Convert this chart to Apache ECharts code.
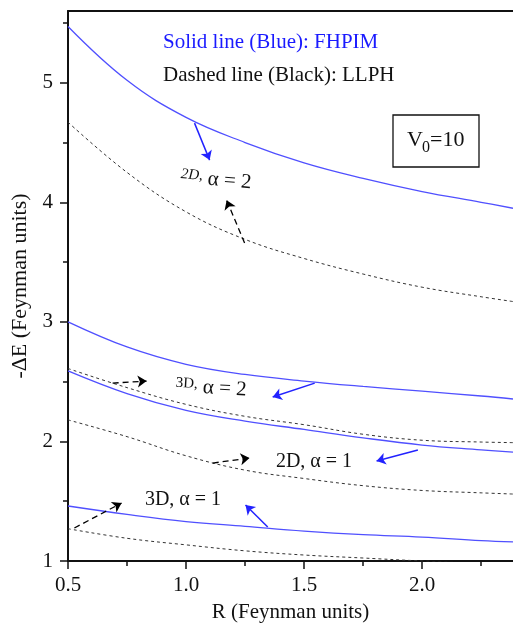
<!DOCTYPE html>
<html>
<head>
<meta charset="utf-8">
<script src="https://cdn.jsdelivr.net/npm/echarts@6/dist/echarts.min.js"></script>
<style>
  html, body { margin: 0; padding: 0; background: #fff; }
  #chart { width: 513px; height: 624px; }
</style>
</head>
<body>
<div id="chart"></div>
<script>
// Polaron binding energy -ΔE vs R for V0 = 10
const R = [0.5, 0.75, 1.0, 1.25, 1.5, 1.75, 2.0, 2.25, 2.385];

// FHPIM (solid, blue)
const fhpim2Da2 = [5.47, 5.02, 4.71, 4.50, 4.33, 4.20, 4.09, 4.00, 3.95];
const fhpim3Da2 = [3.00, 2.79, 2.645, 2.56, 2.505, 2.46, 2.42, 2.38, 2.355];
const fhpim2Da1 = [2.59, 2.40, 2.26, 2.17, 2.10, 2.03, 1.97, 1.93, 1.91];
const fhpim3Da1 = [1.46, 1.39, 1.33, 1.29, 1.25, 1.22, 1.20, 1.17, 1.16];

// LLPH (dashed, black)
const llph2Da2 = [4.67, 4.25, 3.92, 3.69, 3.53, 3.40, 3.29, 3.21, 3.17];
const llph3Da2 = [2.61, 2.45, 2.31, 2.21, 2.14, 2.06, 2.01, 1.995, 1.99];
const llph2Da1 = [2.18, 2.04, 1.88, 1.76, 1.69, 1.63, 1.59, 1.57, 1.56];
const llph3Da1 = [1.27, 1.19, 1.135, 1.085, 1.05, 1.025, 1.0, 0.98, 0.97];

const xMajor = [0.5, 1.0, 1.5, 2.0];
const xMinor = [0.75, 1.25, 1.75, 2.25];
const yMajor = [1, 2, 3, 4, 5];
const yMinor = [1.5, 2.5, 3.5, 4.5, 5.5];

// Pointer arrows [from, to] in data coordinates
const blueArrows = [
  [[1.036, 4.662], [1.100, 4.353]],
  [[1.545, 2.488], [1.367, 2.371]],
  [[1.982, 1.928], [1.807, 1.836]],
  [[1.346, 1.284], [1.252, 1.468]]
];
const blackArrows = [
  [[1.248, 3.659], [1.172, 4.018]],
  [[0.689, 2.488], [0.833, 2.505]],
  [[1.113, 1.819], [1.269, 1.861]],
  [[0.527, 1.276], [0.727, 1.485]]
];

const SERIF = '"Liberation Serif", "DejaVu Serif", serif';
const BLUE = '#5050ff';
const ARROW_BLUE = '#2222ff';
const INK = '#111';

const pairs = ys => R.map((x, i) => [x, ys[i]]);

function solid(name, ys) {
  return {
    name, type: 'line', data: pairs(ys), smooth: 0.4, showSymbol: false,
    lineStyle: { color: BLUE, width: 1.3 }, itemStyle: { color: BLUE }, z: 3
  };
}
function dashed(name, ys) {
  return {
    name, type: 'line', data: pairs(ys), smooth: 0.4, showSymbol: false,
    lineStyle: { color: '#333', width: 1, type: [3, 3] }, itemStyle: { color: '#333' }, z: 2
  };
}
const toMark = list => list.map(([a, b]) => [{ coord: a }, { coord: b }]);

const series = [
  solid('FHPIM 2D a=2', fhpim2Da2),
  solid('FHPIM 3D a=2', fhpim3Da2),
  solid('FHPIM 2D a=1', fhpim2Da1),
  solid('FHPIM 3D a=1', fhpim3Da1),
  dashed('LLPH 2D a=2', llph2Da2),
  dashed('LLPH 3D a=2', llph3Da2),
  dashed('LLPH 2D a=1', llph2Da1),
  dashed('LLPH 3D a=1', llph3Da1)
];
series[0].markLine = {
  silent: true, symbol: ['none', 'arrow'], symbolSize: 9, label: { show: false },
  lineStyle: { color: ARROW_BLUE, width: 1.5, type: 'solid' },
  emphasis: { disabled: true }, data: toMark(blueArrows)
};
series[4].markLine = {
  silent: true, symbol: ['none', 'arrow'], symbolSize: 9, label: { show: false },
  lineStyle: { color: '#000', width: 1.3, type: [6, 4] },
  emphasis: { disabled: true }, data: toMark(blackArrows)
};

const xMin = 0.5, xMax = 2.385, yMin = 1, yMax = 5.6;

const option = {
  animation: false,
  backgroundColor: '#fff',
  grid: { left: 68, right: 0, top: 11, bottom: 63, containLabel: false, outerBoundsMode: 'none' },
  xAxis: [
    {
      type: 'value', min: xMin, max: xMax, position: 'bottom',
      name: 'R (Feynman units)', nameLocation: 'middle', nameGap: 41,
      nameTextStyle: { fontFamily: SERIF, fontSize: 21, color: INK },
      axisLine: { lineStyle: { color: INK, width: 2 } },
      axisTick: { customValues: xMajor, length: 8, lineStyle: { color: INK, width: 1.5 } },
      axisLabel: {
        customValues: xMajor, formatter: v => v.toFixed(1), margin: 14,
        fontFamily: SERIF, fontSize: 21, color: INK
      },
      splitLine: { show: false }
    },
    {
      type: 'value', min: xMin, max: xMax, position: 'bottom',
      axisLine: { show: false },
      axisTick: { customValues: xMinor, length: 5, lineStyle: { color: INK, width: 1.5 } },
      axisLabel: { show: false },
      splitLine: { show: false }
    },
    {
      type: 'value', min: xMin, max: xMax, position: 'top',
      axisLine: { lineStyle: { color: INK, width: 2 } },
      axisTick: { show: false }, axisLabel: { show: false }, splitLine: { show: false }
    }
  ],
  yAxis: [
    {
      type: 'value', min: yMin, max: yMax, position: 'left',
      name: '-ΔE (Feynman units)', nameLocation: 'middle', nameGap: 37, nameRotate: 90,
      nameTextStyle: { fontFamily: SERIF, fontSize: 22, color: INK },
      axisLine: { lineStyle: { color: INK, width: 2 } },
      axisTick: { customValues: yMajor, length: 8, lineStyle: { color: INK, width: 1.5 } },
      axisLabel: {
        customValues: yMajor, formatter: v => String(v), margin: 15,
        fontFamily: SERIF, fontSize: 21, color: INK
      },
      splitLine: { show: false }
    },
    {
      type: 'value', min: yMin, max: yMax, position: 'left',
      axisLine: { show: false },
      axisTick: { customValues: yMinor, length: 5, lineStyle: { color: INK, width: 1.5 } },
      axisLabel: { show: false },
      splitLine: { show: false }
    }
  ],
  series,
  graphic: [
    { type: 'text', x: 163, y: 42, style: { text: 'Solid line (Blue): FHPIM', fill: '#1a1aff', fontFamily: SERIF, fontSize: 21, textVerticalAlign: 'middle' } },
    { type: 'text', x: 163, y: 75, style: { text: 'Dashed line (Black): LLPH', fill: INK, fontFamily: SERIF, fontSize: 21, textVerticalAlign: 'middle' } },
    { type: 'rect', shape: { x: 393, y: 115, width: 86, height: 52 }, style: { fill: 'none', stroke: INK, lineWidth: 1.3 } },
    { type: 'text', x: 407, y: 140, style: { text: 'V', fill: INK, fontFamily: SERIF, fontSize: 22, textVerticalAlign: 'middle' } },
    { type: 'text', x: 422, y: 148, style: { text: '0', fill: INK, fontFamily: SERIF, fontSize: 16, textVerticalAlign: 'middle' } },
    { type: 'text', x: 430, y: 140, style: { text: '=10', fill: INK, fontFamily: SERIF, fontSize: 22, textVerticalAlign: 'middle' } },
    {
      type: 'text', x: 216, y: 180, rotation: -0.08,
      style: {
        text: '{s|2D,} α = 2', fill: INK, fontFamily: SERIF, fontSize: 21,
        textAlign: 'center', textVerticalAlign: 'middle',
        rich: { s: { fontFamily: SERIF, fontSize: 15, fontStyle: 'italic', fill: INK, padding: [0, 0, 6, 0] } }
      }
    },
    {
      type: 'text', x: 211, y: 388, rotation: -0.06,
      style: {
        text: '{s|3D,} α = 2', fill: INK, fontFamily: SERIF, fontSize: 21,
        textAlign: 'center', textVerticalAlign: 'middle',
        rich: { s: { fontFamily: SERIF, fontSize: 15, fill: INK, padding: [0, 0, 6, 0] } }
      }
    },
    { type: 'text', x: 314, y: 462, style: { text: '2D, α = 1', fill: INK, fontFamily: SERIF, fontSize: 20, textAlign: 'center', textVerticalAlign: 'middle' } },
    { type: 'text', x: 183, y: 500, style: { text: '3D, α = 1', fill: INK, fontFamily: SERIF, fontSize: 20, textAlign: 'center', textVerticalAlign: 'middle' } }
  ]
};

const chart = echarts.init(document.getElementById('chart'), null, { renderer: 'canvas' });
chart.setOption(option);
</script>
</body>
</html>
